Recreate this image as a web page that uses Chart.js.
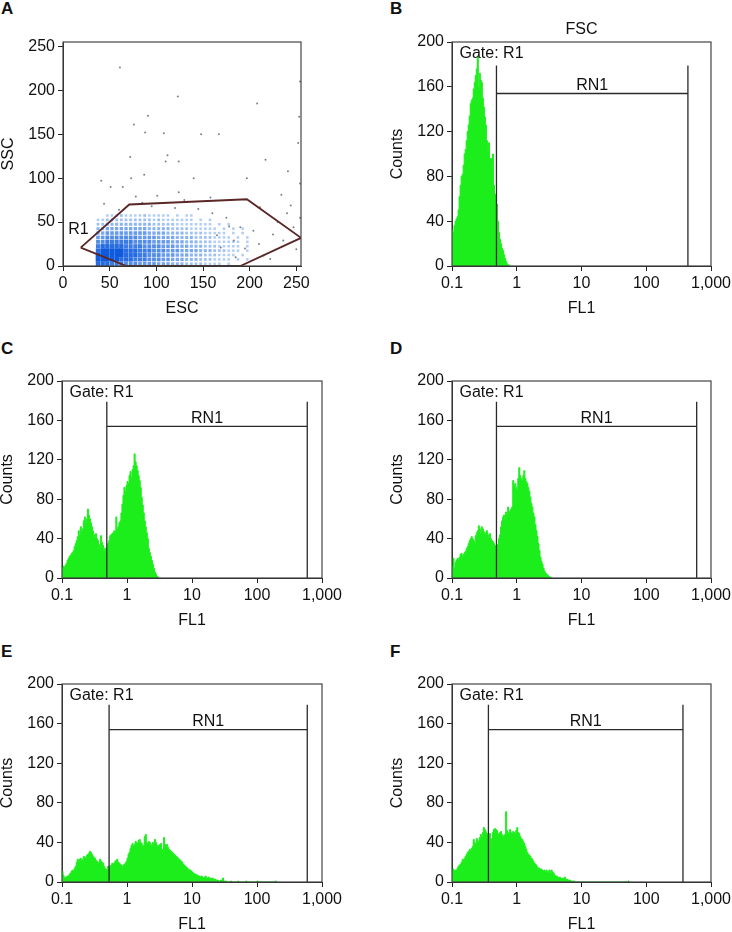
<!DOCTYPE html>
<html>
<head>
<meta charset="utf-8">
<script src="https://cdn.jsdelivr.net/npm/chart.js@4.4.1/dist/chart.umd.min.js"></script>
<style>
  body { margin: 0; background: #fff; width: 732px; height: 932px; position: relative; overflow: hidden; }
  canvas { position: absolute; }
  .tag { position: absolute; font: bold 17px "Liberation Sans", Arial, sans-serif; line-height: 17px; color: #111; }
</style>
</head>
<body>
<div class="tag" style="left:1px;top:0px">A</div>
<div class="tag" style="left:390px;top:0px">B</div>
<div class="tag" style="left:1px;top:340px">C</div>
<div class="tag" style="left:390px;top:340px">D</div>
<div class="tag" style="left:1px;top:643px">E</div>
<div class="tag" style="left:390px;top:643px">F</div>
<script>
const FONT = '"Liberation Sans", Arial, sans-serif';

// ---- panel A: ESC / SSC dot plot ----
const escTicks = [0, 50, 100, 150, 200, 250];
const sscTicks = [0, 50, 100, 150, 200, 250];
const gateR1 = [[19, 21], [71, 70], [197, 76], [255, 32], [190, 0], [68, 0], [19, 21]];
// event density in 5x5 cells, first row = SSC 55-60, first column = ESC 35-40 (0 = empty, 9 = densest)
const densityOrigin = [35, 0];
const densityCell = 5;
const ssDensity = [
  '0011121111211111010110000000000000',
  '1122222222221211111110101000000000',
  '2233333333332222211111111010100000',
  '3344444444433333222211111101010100',
  '4455555555544443333222211111010100',
  '5566666665555444433332222111101010',
  '6677777766665555444333222111111010',
  '7888887777666655544433322211111010',
  '8999998887776665554444333222111010',
  '9999998887766655544433322211110100',
  '9999988877766655444333222111101010',
  '8887776665555444333222211110100000'
];
// single events outside the main cloud
const ssSparse = [[61, 226], [123, 193], [208, 185], [91, 171], [76, 161], [88, 152], [108, 151], [167, 150],
  [72, 124], [110, 119], [124, 119], [217, 121], [87, 104], [241, 108], [41, 97], [73, 100], [140, 100],
  [197, 100], [254, 94], [51, 90], [64, 90], [124, 84], [78, 79], [101, 80], [158, 78], [234, 81], [44, 71],
  [244, 69], [211, 67], [247, 44], [250, 19], [225, 36], [236, 29], [190, 44], [204, 40], [183, 29], [169, 21],
  [215, 12], [230, 50], [175, 55], [160, 60], [195, 20], [210, 25], [185, 10], [240, 60], [222, 8], [165, 35],
  [178, 45], [145, 65], [120, 66], [95, 68], [60, 64], [85, 72], [130, 75], [252, 140], [254, 210], [253, 170],
  [254, 55], [148, 150], [112, 126]];

// ---- panels B-F: FL1 histograms ----
const fl1Ticks = [0.1, 1, 10, 100, 1000];
const fl1Labels = ['0.1', '1', '10', '100', '1,000'];
const countTicks = [0, 40, 80, 120, 160, 200];
const binsPerDecade = 64;   // channels start at 0.1

const countsB = [32, 30, 36, 40, 42, 44, 50, 62, 72, 80, 82, 90, 100, 104, 112, 120, 126, 134, 145, 148,
  150, 158, 164, 170, 176, 187, 160, 172, 166, 164, 150, 142, 133, 126, 112, 104, 110, 96, 96, 88,
  100, 72, 64, 60, 55, 40, 30, 24, 20, 16, 14, 10, 7, 4, 2, 1, 1];

const countsC = [10, 12, 11, 13, 15, 18, 20, 22, 23, 25, 26, 28, 32, 35, 38, 42, 48, 44, 52, 47,
  50, 58, 62, 56, 60, 70, 64, 60, 56, 52, 48, 44, 42, 45, 40, 38, 34, 31, 43, 36,
  33, 28, 30, 29, 31, 35, 38, 43, 44, 45, 46, 48, 47, 62, 50, 52, 56, 58, 66, 75,
  84, 92, 88, 94, 98, 96, 104, 108, 102, 110, 114, 126, 118, 114, 109, 104, 99, 92, 82, 74,
  66, 58, 52, 46, 40, 30, 26, 22, 18, 14, 10, 6, 4, 2, 1];

const countsD = [12, 20, 10, 16, 18, 20, 19, 21, 24, 25, 22, 24, 26, 27, 30, 32, 35, 38, 40, 42,
  40, 38, 36, 43, 46, 48, 53, 50, 46, 52, 50, 47, 45, 46, 48, 44, 42, 45, 40, 38,
  37, 35, 33, 30, 31, 34, 40, 44, 52, 58, 62, 64, 60, 67, 64, 72, 68, 67, 70, 72,
  99, 94, 96, 92, 90, 101, 112, 104, 101, 99, 104, 109, 101, 98, 96, 92, 88, 82, 76, 72,
  66, 62, 54, 48, 42, 35, 28, 21, 17, 14, 10, 7, 5, 4, 3, 2, 1, 1];

const countsE = [11, 7, 4, 5, 5, 6, 6, 8, 9, 11, 12, 11, 14, 16, 20, 23, 22, 23, 24, 22,
  23, 26, 25, 24, 27, 28, 29, 31, 30, 28, 26, 25, 24, 22, 21, 19, 20, 23, 21, 20,
  19, 16, 14, 13, 12, 16, 15, 16, 17, 19, 18, 19, 21, 22, 23, 20, 19, 18, 17, 16,
  17, 18, 19, 21, 24, 28, 30, 34, 37, 39, 36, 38, 41, 40, 39, 42, 43, 40, 39, 36,
  37, 46, 48, 40, 39, 41, 40, 38, 37, 40, 39, 43, 40, 36, 37, 36, 38, 39, 33, 31,
  45, 38, 36, 38, 35, 33, 32, 31, 30, 29, 28, 27, 26, 25, 24, 23, 22, 21, 20, 18,
  17, 16, 15, 14, 13, 12, 12, 11, 10, 9, 8, 8, 7, 7, 6, 6, 5, 6, 5, 4,
  5, 6, 4, 4, 5, 3, 4, 3, 4, 2, 3, 2, 2, 2, 1, 1, 2, 1, 4, 1,
  1, 1, 0, 0, 0, 0, 1, 0, 0, 0, 0, 0, 0, 1, 0, 0, 0, 0, 0, 0,
  0, 1, 0, 0, 0, 0, 0, 0, 0, 0, 0, 0, 1, 0, 0, 0, 0, 0, 0, 0,
  0, 0, 0, 0, 0, 0, 0, 0, 0, 0, 1];

const countsF = [12, 13, 11, 12, 12, 14, 16, 17, 18, 20, 23, 22, 24, 26, 28, 30, 31, 33, 32, 34,
  36, 43, 40, 39, 44, 42, 41, 45, 48, 46, 50, 55, 53, 51, 49, 46, 48, 49, 44, 39,
  50, 53, 54, 53, 52, 49, 48, 50, 51, 48, 46, 47, 48, 71, 52, 49, 50, 53, 50, 49,
  51, 50, 49, 52, 55, 50, 49, 46, 44, 43, 41, 39, 36, 33, 30, 28, 27, 26, 24, 23,
  21, 19, 18, 17, 15, 14, 14, 13, 13, 12, 11, 12, 10, 12, 9, 11, 12, 9, 12, 10,
  9, 7, 6, 6, 5, 4, 5, 4, 3, 4, 3, 5, 2, 3, 2, 2, 2, 1, 1, 1,
  1, 0, 0, 0, 0, 0, 0, 0, 0, 0, 0, 0, 0, 0, 0, 0, 0, 0, 0, 0,
  0, 0, 0, 0, 0, 0, 0, 0, 0, 0, 0, 0, 0, 0, 0, 0, 0, 0, 0, 0,
  0, 0, 0, 0, 0, 0, 0, 0, 0, 0, 0, 0, 0, 0, 1];

// RN1 marker: [low, high] in FL1 units
const gateRN1 = { B: [0.486, 440], C: [0.489, 593], D: [0.486, 601], E: [0.53, 593], F: [0.365, 369] };
const gateRN1Top = 179;
const gateRN1Bar = 154;

// ---- layout: plot area of each panel in page pixels [left, top, right, bottom] ----
const plotBoxes = {
  A: [63, 42, 301, 266], B: [452, 42, 711, 266],
  C: [62, 381, 322, 578], D: [452, 381, 711, 578],
  E: [62, 684, 322, 882], F: [452, 684, 711, 882]
};
const AXIS_W = 62, AXIS_H = 52, PAD_T = 30, PAD_R = 30;

function placeCanvas(panel) {
  let [l, t, r, b] = plotBoxes[panel];
  let c = document.createElement('canvas');
  c.setAttribute('id', 'panel' + panel);
  c.setAttribute('width', r - l + AXIS_W + PAD_R);
  c.setAttribute('height', b - t + PAD_T + AXIS_H);
  c.style.left = (l - AXIS_W) + 'px';
  c.style.top = (t - PAD_T) + 'px';
  document.body.appendChild(c);
  return c.getContext('2d');
}

// frame around the plot + free text (gate names etc.)
const overlay = {
  id: 'overlay',
  afterDraw(chart, args, opts) {
    const { ctx, chartArea: a, scales } = chart;
    ctx.save();
    ctx.strokeStyle = '#444';
    ctx.lineWidth = 1.2;
    ctx.strokeRect(a.left, a.top, a.right - a.left, a.bottom - a.top);
    ctx.fillStyle = '#111';
    ctx.font = '16px ' + FONT;
    (opts.labels || []).forEach(lb => {
      ctx.textAlign = lb.align || 'left';
      ctx.textBaseline = lb.base || 'middle';
      let px = lb.vx !== undefined ? scales.x.getPixelForValue(lb.vx)
        : lb.cx ? (a.left + a.right) / 2 : a.left + lb.dx;
      let py = lb.vy !== undefined ? scales.y.getPixelForValue(lb.vy) + (lb.dy || 0) : a.top + lb.dy;
      ctx.fillText(lb.text, px, py);
    });
    ctx.restore();
  }
};

function axis(title, tickValues, tickLabels, horizontal) {
  return {
    border: { display: true, color: '#222', width: 1 },
    grid: { drawOnChartArea: false, drawTicks: true, tickLength: 5, tickColor: '#222', tickWidth: 1 },
    ticks: {
      color: '#111', padding: 3, maxRotation: 0, autoSkip: false,
      font: { size: 16, family: FONT },
      callback: (v, i) => tickLabels[i]
    },
    title: {
      display: true, text: title, color: '#111',
      font: { size: 16, family: FONT, lineHeight: 1 },
      padding: horizontal ? { top: 0, bottom: 1 } : 0
    },
    afterBuildTicks: s => { s.ticks = tickValues.map(v => ({ value: v })); },
    afterFit: s => { if (horizontal) s.height = AXIS_H; else s.width = AXIS_W; }
  };
}

const baseOptions = {
  responsive: false,
  animation: false,
  events: [],
  layout: { padding: { top: PAD_T, right: PAD_R, left: 0, bottom: 0 } },
};

// ---- panel A ----
function densityShade(v) {
  let t = v / 9;
  let r = Math.round(60 - 45 * t), g = Math.round(135 - 45 * t), b = Math.round(230 - 10 * t);
  return 'rgba(' + r + ',' + g + ',' + b + ',' + (0.32 + 0.68 * t).toFixed(2) + ')';
}

function scatterPanel() {
  let ctx = placeCanvas('A');
  let cells = [];
  ssDensity.forEach((row, ri) => {
    let y0 = densityOrigin[1] + densityCell * (ssDensity.length - 1 - ri);
    row.split('').forEach((ch, ci) => {
      let v = Number(ch);
      if (v > 0) cells.push({ x: densityOrigin[0] + densityCell * (ci + 0.5), y: y0 + densityCell / 2, v: v });
    });
  });
  return new Chart(ctx, {
    type: 'scatter',
    data: {
      datasets: [
        {
          data: gateR1.map(p => ({ x: p[0], y: p[1] })), showLine: true, order: 0,
          borderColor: '#5a2626', borderWidth: 1.8, pointRadius: 0, fill: false
        },
        {
          data: ssSparse.map(p => ({ x: p[0], y: p[1] })), order: 1,
          pointRadius: 1, borderWidth: 0, backgroundColor: 'rgba(70,90,110,0.75)'
        },
        {
          data: cells, order: 2, pointStyle: 'rect', borderWidth: 0,
          pointRadius: c => (c.raw ? 1.6 + 1.7 * c.raw.v / 9 : 2),
          backgroundColor: c => densityShade(c.raw ? c.raw.v : 1)
        }
      ]
    },
    options: Object.assign({}, baseOptions, {
      plugins: {
        legend: { display: false }, tooltip: { enabled: false },
        overlay: { labels: [{ text: 'R1', vx: 16.5, vy: 42, align: 'center' }] }
      },
      scales: {
        x: Object.assign(axis('ESC', escTicks, escTicks.map(String), true), { type: 'linear', min: 0, max: 255 }),
        y: Object.assign(axis('SSC', sscTicks, sscTicks.map(String), false), { type: 'linear', min: 0, max: 255 })
      }
    }),
    plugins: [overlay]
  });
}

// ---- panels B-F ----
function histogramPanel(panel, counts, showTitle) {
  let ctx = placeCanvas(panel);
  let bins = counts.map((c, i) => ({ x: 0.1 * Math.pow(10, i / binsPerDecade), y: c }));
  bins.push({ x: 0.1 * Math.pow(10, counts.length / binsPerDecade), y: 0 });
  let [lo, hi] = gateRN1[panel];
  let marker = [
    { x: lo, y: 0 }, { x: lo, y: gateRN1Top }, { x: lo, y: gateRN1Bar },
    { x: hi, y: gateRN1Bar }, { x: hi, y: gateRN1Top }, { x: hi, y: 0 }
  ];
  let labels = [
    { text: 'Gate: R1', dx: 7.5, dy: 12 },
    { text: 'RN1', vx: Math.sqrt(lo * hi), vy: gateRN1Bar, dy: -3.5, align: 'center', base: 'alphabetic' }
  ];
  if (showTitle) labels.push({ text: 'FSC', cx: true, dy: -12.5, align: 'center' });

  return new Chart(ctx, {
    type: 'line',
    data: {
      datasets: [
        { data: marker, order: 0, borderColor: '#2a2a2a', borderWidth: 1.3, pointRadius: 0, fill: false },
        {
          data: bins, order: 1, stepped: true, fill: 'origin', pointRadius: 0,
          borderColor: '#1cee1c', borderWidth: 1, backgroundColor: '#1cee1c'
        }
      ]
    },
    options: Object.assign({}, baseOptions, {
      plugins: { legend: { display: false }, tooltip: { enabled: false }, overlay: { labels: labels } },
      scales: {
        x: Object.assign(axis('FL1', fl1Ticks, fl1Labels, true), { type: 'logarithmic', min: 0.1, max: 1000 }),
        y: Object.assign(axis('Counts', countTicks, countTicks.map(String), false), { type: 'linear', min: 0, max: 200 })
      }
    }),
    plugins: [overlay]
  });
}

scatterPanel();
histogramPanel('B', countsB, true);
histogramPanel('C', countsC, false);
histogramPanel('D', countsD, false);
histogramPanel('E', countsE, false);
histogramPanel('F', countsF, false);
</script>
</body>
</html>
